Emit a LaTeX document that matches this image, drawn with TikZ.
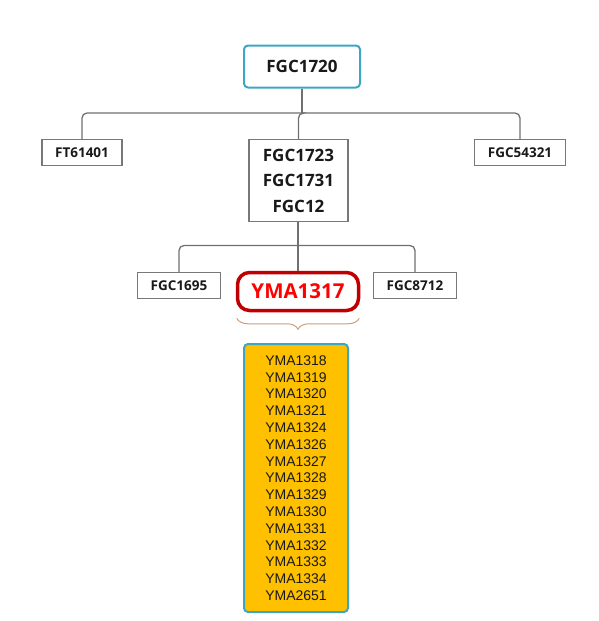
\documentclass[tikz,border=0pt]{standalone}
\usepackage{fontspec}
\setmainfont{Open Sans}
\newfontfamily\arialfont{Liberation Sans}
\usetikzlibrary{decorations.pathreplacing}
\definecolor{teal1}{RGB}{62,166,196}
\definecolor{conngray}{RGB}{112,112,112}
\definecolor{boxgray}{RGB}{120,120,120}
\definecolor{darkred}{RGB}{192,0,0}
\definecolor{gold}{RGB}{255,192,0}
\definecolor{tan1}{RGB}{200,160,130}
\tikzset{
  conn/.style={draw=conngray, line width=1.3pt, rounded corners=5pt},
  plainbox/.style={draw=boxgray, line width=1.3pt, inner sep=0pt, align=center,
    font=\bfseries\fontsize{13.5}{16}\selectfont, text=black!90},
  topbox/.style={draw=teal1, line width=2pt, rounded corners=4pt, inner sep=0pt,
    font=\bfseries\fontsize{17}{20}\selectfont, text=black!90},
  redbox/.style={draw=darkred, line width=3.5pt, rounded corners=12pt, inner sep=0pt,
    font=\bfseries\fontsize{20.5}{24}\selectfont, text=red},
  listbox/.style={draw=teal1, fill=gold, line width=2pt, rounded corners=4pt, inner sep=0pt,
    align=center, font=\arialfont\fontsize{14}{16.8}\selectfont, text=black!90},
}
\begin{document}
\begin{tikzpicture}[x=1pt,y=-1pt]
\useasboundingbox (0,0) rectangle (599,621);
\node[topbox, minimum width=116, minimum height=42] (top) at (302,66.5) {FGC1720};
\node[plainbox, minimum width=80, minimum height=26] (ft) at (82,152.5) {FT61401};
\node[plainbox, minimum width=99, minimum height=82, font=\bfseries\fontsize{17}{25.5}\selectfont] (mid) at (298.5,180.5) {FGC1723\\FGC1731\\FGC12};
\node[plainbox, minimum width=91, minimum height=26] (fr) at (520,152.5) {FGC54321};
\node[plainbox, minimum width=83, minimum height=26] (l2) at (179,285.5) {FGC1695};
\node[redbox, minimum width=121, minimum height=38] (ym) at (298,291.5) {YMA1317};
\node[plainbox, minimum width=83, minimum height=26] (r2) at (415,285.5) {FGC8712};
\node[listbox, minimum width=104, minimum height=268] (list) at (296,478) {YMA1318\\YMA1319\\YMA1320\\YMA1321\\YMA1324\\YMA1326\\YMA1327\\YMA1328\\YMA1329\\YMA1330\\YMA1331\\YMA1332\\YMA1333\\YMA1334\\YMA2651};
% level 1 connectors
\coordinate (j1) at (top.south |- 0,113);
\draw[conn] (top.south) -- (j1);
\draw[conn] (j1) -| (ft.north);
\draw[conn] (j1) -| (fr.north);
\draw[conn] (j1) -| (mid.north);
% level 2 connectors
\coordinate (j2) at (ym.north |- 0,245.5);
\draw[conn] (mid.south -| ym.north) -- (ym.north);
\draw[conn] (j2) -| (l2.north);
\draw[conn] (j2) -| (r2.north);
% brace
\draw[tan1, line width=1pt, decorate, decoration={brace, mirror, amplitude=11pt}]
  ([xshift=1pt,yshift=-6pt]ym.south west) -- ([xshift=-1pt,yshift=-6pt]ym.south east);
\end{tikzpicture}
\end{document}
